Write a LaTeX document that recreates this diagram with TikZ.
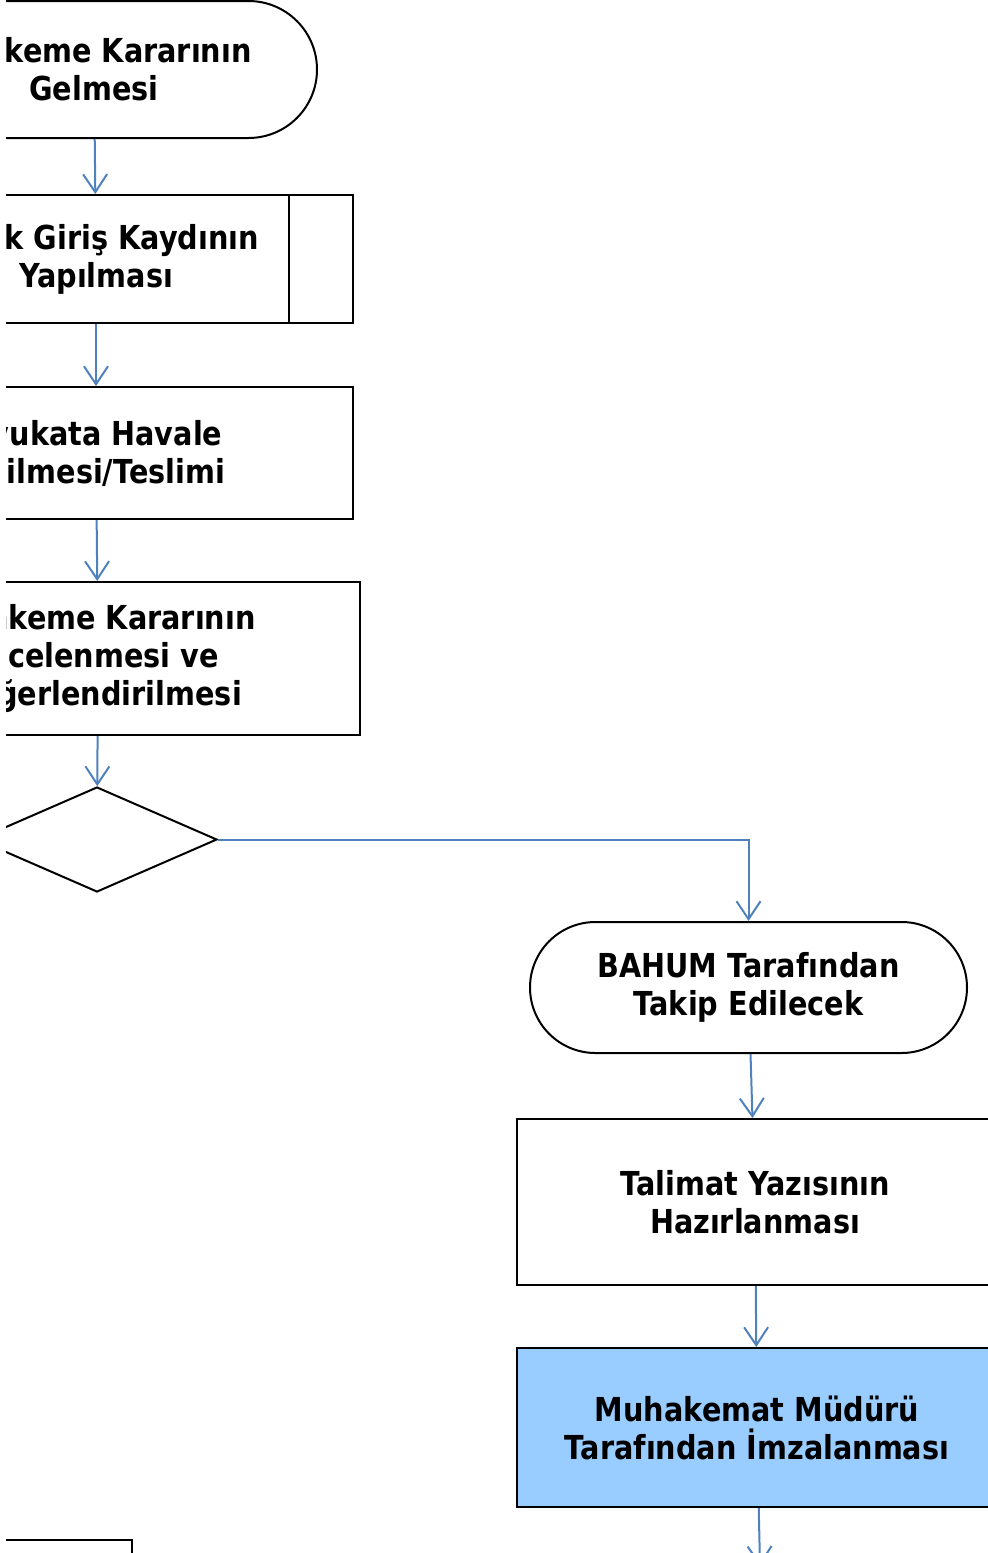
\documentclass[tikz,border=0pt]{standalone}
\usepackage{fontspec}
\setmainfont{DejaVu Sans}[FakeStretch=0.87]
\usetikzlibrary{shapes.geometric}
\usetikzlibrary{shapes.misc}
\usetikzlibrary{arrows.meta}
\definecolor{akismavi}{RGB}{79,129,189}
\definecolor{imzamavi}{RGB}{153,204,255}
\tikzset{kutu/.style={draw, line width=2pt, inner sep=0pt, align=center, font=\bfseries\fontsize{33}{38}\selectfont}}
\tikzset{uc/.style={kutu, rounded rectangle}}
\tikzset{soru/.style={kutu, diamond}}
\tikzset{akis/.style={draw=akismavi, line width=2pt, -{Straight Barb[length=18pt,width=24pt]}}}

\begin{document}
\begin{tikzpicture}[x=1pt,y=-1pt]
\useasboundingbox (0,0) rectangle (988,1553);
\clip (6,0) rectangle (988,1553);

\node[uc, minimum width=446pt, minimum height=137pt] (gelis) at (94,69.5) {Mahkeme Kararının\\Gelmesi};
\node[kutu, minimum width=514pt, minimum height=128pt] (kayit) at (96,259) {Evrak Giriş Kaydının\\Yapılması};
\node[kutu, minimum width=514pt, minimum height=132pt] (havale) at (96,453) {Avukata Havale\\Edilmesi/Teslimi};
\node[kutu, minimum width=524pt, minimum height=153pt] (inceleme) at (98,658.5) {Mahkeme Kararının\\İncelenmesi ve\\Değerlendirilmesi};
\node[soru, minimum width=240pt, minimum height=105pt] (karar) at (97,839.5) {};
\node[uc, minimum width=437pt, minimum height=131pt] (bahum) at (748.5,987.5) {BAHUM Tarafından\\Takip Edilecek};
\node[kutu, minimum width=476pt, minimum height=166pt] (talimat) at (755,1202) {Talimat Yazısının\\Hazırlanması};
\node[kutu, fill=imzamavi, minimum width=480pt, minimum height=159pt] (imza) at (757,1427.5) {Muhakemat Müdürü\\Tarafından İmzalanması};
\node[kutu, minimum width=440pt, minimum height=150pt] (diger) at (-88,1615) {};
\coordinate (sonraki) at (760,1566);

\draw[line width=2pt] ([xshift=-65pt]kayit.north east) -- ([xshift=-65pt]kayit.south east);
\draw[line width=2pt] ([xshift=65pt]kayit.north west) -- ([xshift=65pt]kayit.south west);

\draw[akis] (gelis) -- (kayit);
\draw[akis] (kayit) -- (havale);
\draw[akis] (havale) -- (inceleme);
\draw[akis] (inceleme) -- (karar);
\draw[akis] (karar.east) -| (bahum.north);
\draw[akis] (bahum) -- (talimat);
\draw[akis] (talimat) -- (imza);
\draw[akis] (imza) -- (sonraki);
\end{tikzpicture}
\end{document}
